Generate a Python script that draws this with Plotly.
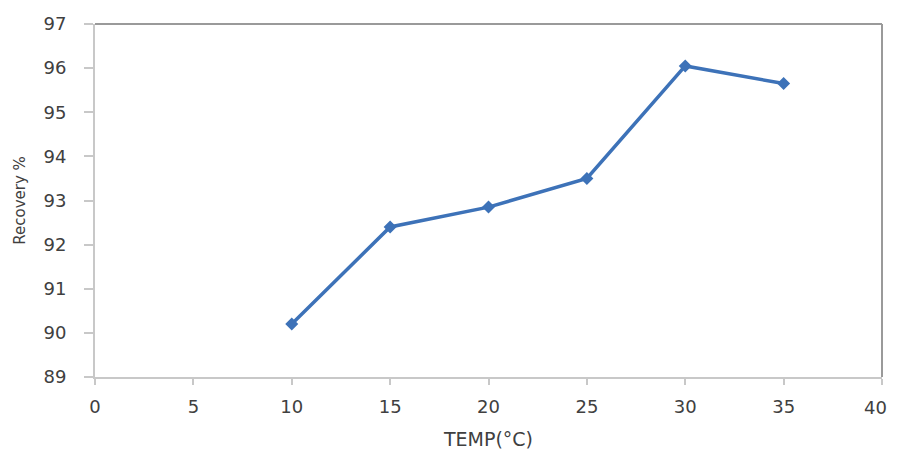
import plotly.graph_objects as go

temp_c = [10, 15, 20, 25, 30, 35]
recovery_pct = [90.2, 92.4, 92.85, 93.5, 96.05, 95.65]
x_ticks = [0, 5, 10, 15, 20, 25, 30, 35, 40]
y_ticks = [89, 90, 91, 92, 93, 94, 95, 96, 97]

fig = go.Figure()
fig.add_trace(go.Scatter(
    x=temp_c, y=recovery_pct, mode="lines+markers",
    line=dict(color="#3d72b8", width=3.5),
    marker=dict(symbol="diamond", size=10, color="#3d72b8"),
    showlegend=False,
))

fam = "DejaVu Sans, Liberation Sans, sans-serif"
txt = "#404040"

# last x tick label is drawn as an annotation nudged left so it is not clipped at the page edge
x_ticktext = [str(v) for v in x_ticks[:-1]] + [""]

fig.update_layout(
    width=890, height=442,
    margin=dict(l=87, r=16, t=16, b=73),
    paper_bgcolor="white", plot_bgcolor="white",
    font=dict(family=fam, size=16, color=txt),
    xaxis=dict(
        range=[0, 40], tickvals=x_ticks, ticktext=x_ticktext,
        showgrid=False, zeroline=False,
        showline=True, linecolor="#c8c8c8", linewidth=2,
        ticks="outside", ticklen=6, tickcolor="#c8c8c8", tickwidth=2,
        ticklabelstandoff=6,
        automargin=False,
        title=dict(text="TEMP(°C)", standoff=26, font=dict(family=fam, size=19, color=txt)),
        tickfont=dict(size=18),
    ),
    yaxis=dict(
        range=[89, 97], tickvals=y_ticks, showgrid=False, zeroline=False,
        showline=True, linecolor="#c8c8c8", linewidth=2,
        ticks="outside", ticklen=9, tickcolor="#c8c8c8", tickwidth=2,
        ticklabelstandoff=14,
        automargin=False,
        title=dict(text="Recovery %", standoff=14, font=dict(family=fam, size=15, color=txt)),
        tickfont=dict(size=18),
    ),
    annotations=[
        dict(text=str(x_ticks[-1]), x=x_ticks[-1], xref="x", y=0, yref="paper",
             xanchor="right", yanchor="middle", xshift=7, yshift=-30,
             showarrow=False, font=dict(family=fam, size=18, color=txt)),
    ],
    shapes=[
        dict(type="line", xref="paper", yref="paper", x0=0, x1=1, y0=1, y1=1,
             line=dict(color="#9a9a9a", width=2)),
        dict(type="line", xref="paper", yref="paper", x0=1, x1=1, y0=0, y1=1,
             line=dict(color="#9a9a9a", width=2)),
    ],
)

fig.write_html("out.html")
